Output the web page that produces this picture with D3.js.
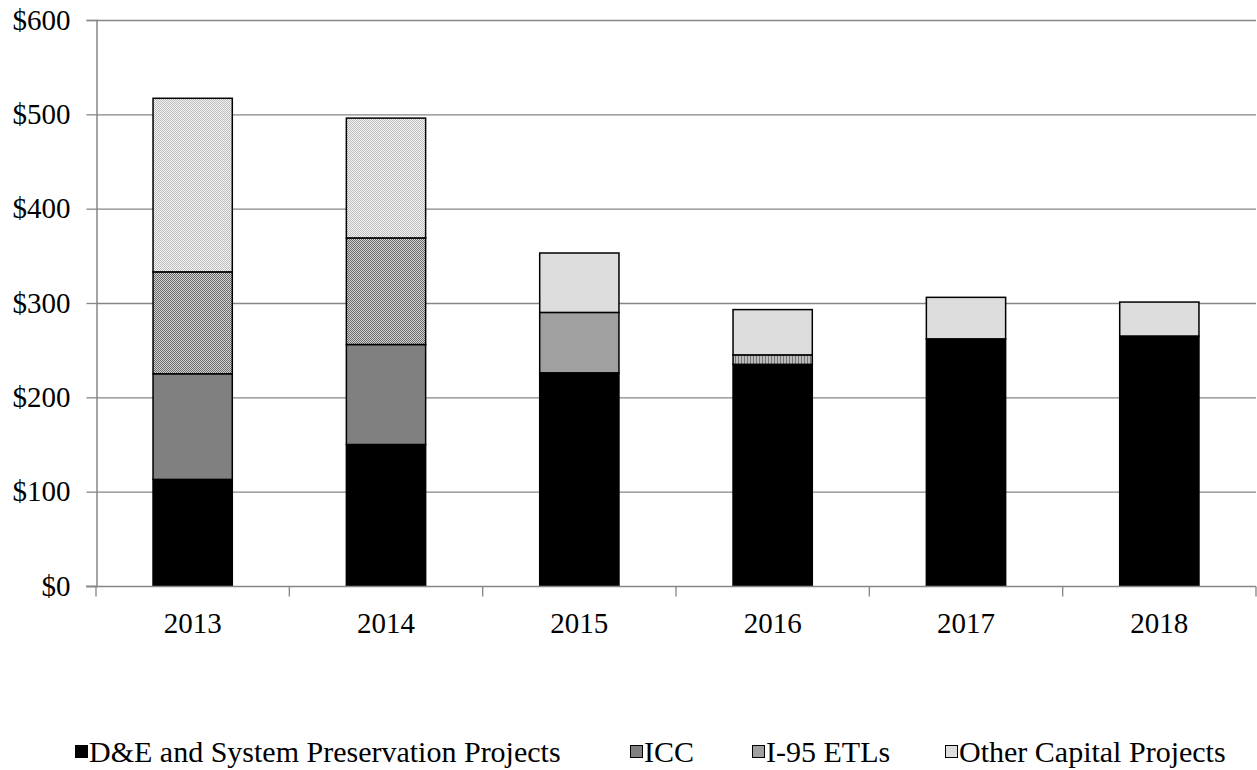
<!DOCTYPE html>
<html>
<head>
<meta charset="utf-8">
<script src="https://cdn.jsdelivr.net/npm/d3@7"></script>
<style>
  html, body { margin: 0; padding: 0; background: #fff; }
  svg { display: block; font-family: "Liberation Serif", "Times New Roman", serif; }
</style>
</head>
<body>
<svg id="chart" width="1257" height="770"></svg>
<script>
/* Capital program spending by year, stacked. */

const years = ["2013", "2014", "2015", "2016", "2017", "2018"];
const seriesNames = ["D&E and System Preservation Projects", "ICC", "I-95 ETLs", "Other Capital Projects"];
const dneValues = [113, 150, 226, 235, 262, 265];
const iccValues = [112, 106, 0, 0, 0, 0];
const i95Values = [108, 113, 64, 10, 0, 0];
const otherValues = [184, 127, 63, 48, 44, 36];
const yTicks = [0, 100, 200, 300, 400, 500, 600];

const W = 1257, H = 770;
const margin = { left: 96, right: 1, top: 20, bottom: 184 };
const FS = 29;

const svg = d3.select("#chart");
const defs = svg.append("defs");

// checker patterns used by the 2013-14 bars, stripes by 2016
function checker(id, a, b) {
  const p = defs.append("pattern").attr("id", id)
    .attr("patternUnits", "userSpaceOnUse").attr("width", 2).attr("height", 2);
  p.append("rect").attr("width", 2).attr("height", 2).attr("fill", b);
  p.append("rect").attr("width", 1).attr("height", 1).attr("fill", a);
  p.append("rect").attr("x", 1).attr("y", 1).attr("width", 1).attr("height", 1).attr("fill", a);
}
checker("chkDark", "#6a6a6a", "#d4d4d4");
checker("chkLight", "#bdbdbd", "#f4f4f4");
const stripes = defs.append("pattern").attr("id", "stripes")
  .attr("patternUnits", "userSpaceOnUse").attr("width", 3).attr("height", 3);
stripes.append("rect").attr("width", 3).attr("height", 3).attr("fill", "#bcbcbc");
stripes.append("rect").attr("width", 1).attr("height", 3).attr("fill", "#777");

const baseColors = ["#000000", "#808080", "#a0a0a0", "#dddddd"];
function fillFor(s, i) {
  if (s === 2 && i < 2) return "url(#chkDark)";
  if (s === 2 && i === 3) return "url(#stripes)";
  if (s === 3 && i < 2) return "url(#chkLight)";
  return baseColors[s];
}

const x = d3.scaleBand().domain(years)
  .range([margin.left, W - margin.right]).paddingInner(0.59).paddingOuter(0.295);
const y = d3.scaleLinear().domain([0, 600]).range([H - margin.bottom, margin.top]);

const rows = years.map((yr, i) => ({
  year: yr, i,
  vals: [dneValues[i], iccValues[i], i95Values[i], otherValues[i]]
}));
const stack = d3.stack().keys([0, 1, 2, 3]).value((d, k) => d.vals[k]);
const stacked = stack(rows);

// gridlines
svg.append("g")
  .selectAll("line").data(yTicks.filter(t => t > 0)).join("line")
  .attr("x1", margin.left).attr("x2", W - margin.right)
  .attr("y1", d => y(d) + 0.5).attr("y2", d => y(d) + 0.5)
  .attr("stroke", "#868686").attr("stroke-width", 1.3);

// bars
stacked.forEach((layer, s) => {
  svg.append("g").selectAll("rect")
    .data(layer.filter(d => d[1] - d[0] > 0)).join("rect")
    .attr("x", d => x(d.data.year))
    .attr("width", x.bandwidth())
    .attr("y", d => y(d[1]))
    .attr("height", d => y(d[0]) - y(d[1]))
    .attr("fill", d => fillFor(s, d.data.i))
    .attr("stroke", "#000").attr("stroke-width", 1.5);
});

// y axis
const yAxis = svg.append("g").attr("transform", `translate(${margin.left + 0.5},0)`)
  .call(d3.axisLeft(y).tickValues(yTicks).tickFormat(d => "$" + d).tickSize(10).tickPadding(16));
yAxis.select(".domain").attr("stroke", "#868686").attr("stroke-width", 1.5);
yAxis.selectAll(".tick line").attr("stroke", "#868686").attr("stroke-width", 1.3);
yAxis.selectAll(".tick text").attr("font-size", FS).attr("fill", "#000")
  .attr("font-family", "Liberation Serif");

// x axis with boundary ticks
const xAxisG = svg.append("g").attr("transform", `translate(0,${y(0) + 0.5})`);
xAxisG.append("line").attr("x1", margin.left - 10).attr("x2", W - margin.right)
  .attr("stroke", "#868686").attr("stroke-width", 1.5);
const step = x.step();
const bounds = d3.range(years.length + 1).map(k => margin.left + k * step);
xAxisG.selectAll("line.tk").data(bounds).join("line").attr("class", "tk")
  .attr("x1", d => d).attr("x2", d => d).attr("y1", 0).attr("y2", 10)
  .attr("stroke", "#868686").attr("stroke-width", 1.3);
xAxisG.selectAll("text").data(years).join("text")
  .attr("x", d => x(d) + x.bandwidth() / 2).attr("y", 46)
  .attr("text-anchor", "middle").attr("font-size", FS).text(d => d);

// legend
const legendX = [75, 630, 752, 945];
const legend = svg.append("g").attr("transform", "translate(0,752)");
seriesNames.forEach((name, s) => {
  const g = legend.append("g").attr("transform", `translate(${legendX[s]},0)`);
  g.append("rect").attr("x", 0.5).attr("y", -6.5).attr("width", 12).attr("height", 12)
    .attr("fill", baseColors[s]).attr("stroke", "#000").attr("stroke-width", 1);
  g.append("text").attr("x", 14).attr("y", 10).attr("font-size", 30).text(name);
});
</script>
</body>
</html>
